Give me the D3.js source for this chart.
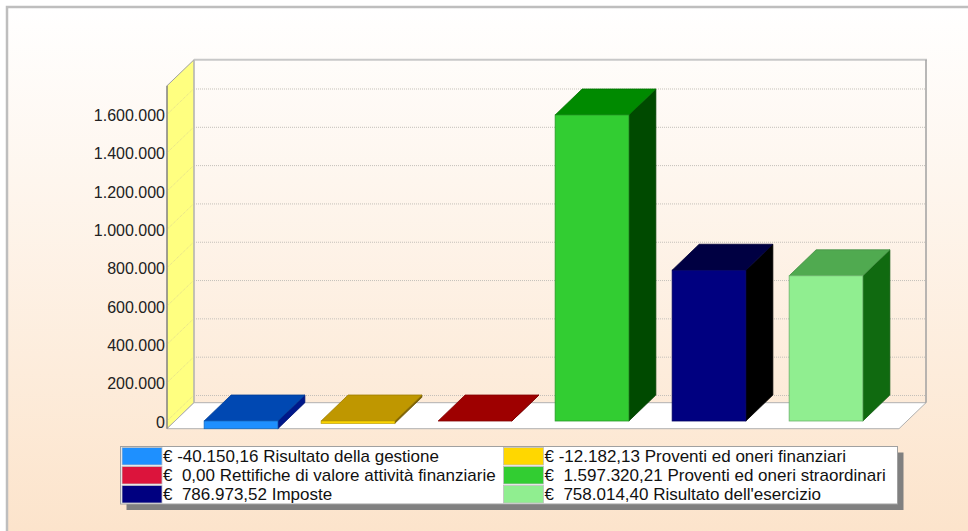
<!DOCTYPE html>
<html>
<head>
<meta charset="utf-8">
<script src="https://cdn.jsdelivr.net/npm/d3@7"></script>
<style>
  html, body { margin: 0; padding: 0; background: #ffffff; }
  svg { display: block; }
  text { font-family: "Liberation Sans", Arial, sans-serif; }
</style>
</head>
<body>
<svg id="chart" width="968" height="531"></svg>
<script>
// ---- data ----
const categories = [
  "Risultato della gestione",
  "Proventi ed oneri finanziari",
  "Rettifiche di valore attività finanziarie",
  "Proventi ed oneri straordinari",
  "Imposte",
  "Risultato dell'esercizio"
];
const values = [-40150.16, -12182.13, 0.00, 1597320.21, 786973.52, 758014.40];
const legendLabels = [
  "€ -40.150,16 Risultato della gestione",
  "€ -12.182,13 Proventi ed oneri finanziari",
  "€  0,00 Rettifiche di valore attività finanziarie",
  "€  1.597.320,21 Proventi ed oneri straordinari",
  "€  786.973,52 Imposte",
  "€  758.014,40 Risultato dell'esercizio"
];
const tickValues = [0, 200000, 400000, 600000, 800000, 1000000, 1200000, 1400000, 1600000];
const tickLabels = ["0", "200.000", "400.000", "600.000", "800.000", "1.000.000", "1.200.000", "1.400.000", "1.600.000"];
const frontColors = ["#1E90FF", "#FFD700", "#DC143C", "#32CD32", "#000080", "#90EE90"];
const topColors   = ["#0048B2", "#BF9700", "#9E0000", "#008A00", "#000042", "#50AA50"];
const sideColors  = ["#00188A", "#806400", "#6A0000", "#004A00", "#000000", "#106A10"];

// ---- layout ----
const svg = d3.select("#chart");
const W = 968, H = 531;
const dx = 27, dy = 26;           // depth offset
const xL = 167, xR = 899;         // front plane
const yMin = d3.min(values), yMax = 1750000;

const y = d3.scaleLinear().domain([0, 1597320.21]).range([421, 115]);
const yTop = y(yMax), yBot = y(yMin);

const x = d3.scaleBand().domain(categories)
  .range([182.5, 884.5]).paddingInner(0.37).paddingOuter(0.185);

// background
const defs = svg.append("defs");
const grad = defs.append("linearGradient").attr("id", "bg")
  .attr("x1", 0).attr("y1", 0).attr("x2", 0).attr("y2", 1);
grad.append("stop").attr("offset", "0%").attr("stop-color", "#FFFFFF");
grad.append("stop").attr("offset", "100%").attr("stop-color", "#FCE3CA");
svg.append("rect").attr("x", 0).attr("y", 0).attr("width", W).attr("height", H).attr("fill", "#fff");
svg.append("rect").attr("x", 7).attr("y", 7).attr("width", 990).attr("height", 540)
  .attr("fill", "url(#bg)").attr("stroke", "#BEBEBE").attr("stroke-width", 2.5);

const poly = pts => pts.map(p => p.join(",")).join(" ");

// left wall
svg.append("polygon")
  .attr("points", poly([[xL, yTop], [xL + dx, yTop - dy], [xL + dx, yBot - dy], [xL, yBot]]))
  .attr("fill", "#FFFF80").attr("stroke", "#A0A0A0").attr("stroke-width", 1);

// floor
svg.append("polygon")
  .attr("points", poly([[xL, yBot], [xR, yBot], [xR + dx, yBot - dy], [xL + dx, yBot - dy]]))
  .attr("fill", "#FFFFFF").attr("stroke", "#B0B0B0").attr("stroke-width", 1);

// gridlines: back wall + left wall diagonals
const grid = svg.append("g");
tickValues.forEach(v => {
  const yy = y(v);
  grid.append("line")
    .attr("x1", xL + dx).attr("x2", xR + dx)
    .attr("y1", yy - dy + 0.5).attr("y2", yy - dy + 0.5)
    .attr("stroke", "#C4C0BA").attr("stroke-width", 1).attr("stroke-dasharray", "1,1");
  grid.append("line")
    .attr("x1", xL).attr("x2", xL + dx)
    .attr("y1", yy).attr("y2", yy - dy)
    .attr("stroke", "#E2DC90").attr("stroke-width", 1).attr("stroke-dasharray", "1,1");
});

// back wall borders
svg.append("line").attr("x1", xL + dx).attr("x2", xR + dx + 1)
  .attr("y1", yTop - dy).attr("y2", yTop - dy)
  .attr("stroke", "#C8C8C8").attr("stroke-width", 2);
svg.append("line").attr("x1", xR + dx).attr("x2", xR + dx)
  .attr("y1", yTop - dy).attr("y2", yBot - dy)
  .attr("stroke", "#A0A0A0").attr("stroke-width", 1.5);
svg.append("line").attr("x1", xL + dx).attr("x2", xL + dx)
  .attr("y1", yTop - dy).attr("y2", yBot - dy)
  .attr("stroke", "#B8B8B8").attr("stroke-width", 1);
svg.append("line").attr("x1", xL).attr("x2", xL)
  .attr("y1", yTop).attr("y2", yBot)
  .attr("stroke", "#707070").attr("stroke-width", 1);

// y-axis labels
svg.append("g").selectAll("text").data(tickValues).join("text")
  .attr("x", 165).attr("y", d => y(d) + 1)
  .attr("text-anchor", "end").attr("dominant-baseline", "central")
  .attr("font-size", 16).attr("fill", "#222")
  .text((d, i) => tickLabels[i]);

// bars
const bars = svg.append("g");
categories.forEach((c, i) => {
  const v = values[i];
  const x0 = x(c), x1 = x0 + x.bandwidth();
  const yt = y(Math.max(v, 0)), yb = y(Math.min(v, 0));
  const g = bars.append("g");
  // side
  g.append("polygon")
    .attr("points", poly([[x1, yt], [x1 + dx, yt - dy], [x1 + dx, yb - dy], [x1, yb]]))
    .attr("fill", sideColors[i]).attr("stroke", d3.color(sideColors[i]).darker(0.5)).attr("stroke-width", 0.8);
  // top
  g.append("polygon")
    .attr("points", poly([[x0, yt], [x1, yt], [x1 + dx, yt - dy], [x0 + dx, yt - dy]]))
    .attr("fill", topColors[i]).attr("stroke", d3.color(topColors[i]).darker(0.5)).attr("stroke-width", 0.8);
  // front
  if (yb - yt > 0.5) {
    g.append("rect")
      .attr("x", x0).attr("y", yt).attr("width", x1 - x0).attr("height", yb - yt)
      .attr("fill", frontColors[i]).attr("stroke", d3.color(frontColors[i]).darker(0.8)).attr("stroke-width", 0.8);
  }
});

// legend
const lg = svg.append("g");
const lx = 120.5, ly = 446.5, lw = 777, lh = 57.5, rowH = 19;
lg.append("rect").attr("x", lx + 6).attr("y", ly + 6).attr("width", lw).attr("height", lh).attr("fill", "#808080");
lg.append("rect").attr("x", lx).attr("y", ly).attr("width", lw).attr("height", lh)
  .attr("fill", "#FFFFFF").attr("stroke", "#A0A0A0").attr("stroke-width", 1);
const colX = [122, 503.5];
legendLabels.forEach((lab, i) => {
  const col = i % 2, row = Math.floor(i / 2);
  const sx = colX[col], sy = 447.5 + row * rowH;
  lg.append("rect").attr("x", sx).attr("y", sy).attr("width", 40).attr("height", 17.5)
    .attr("fill", frontColors[i]).attr("stroke", "#C0C0C0").attr("stroke-width", 0.8);
  lg.append("text").attr("x", sx + 41).attr("y", sy + 14.5)
    .attr("font-size", 17).attr("fill", "#111")
    .style("white-space", "pre").attr("xml:space", "preserve")
    .text(lab);
});
</script>
</body>
</html>
